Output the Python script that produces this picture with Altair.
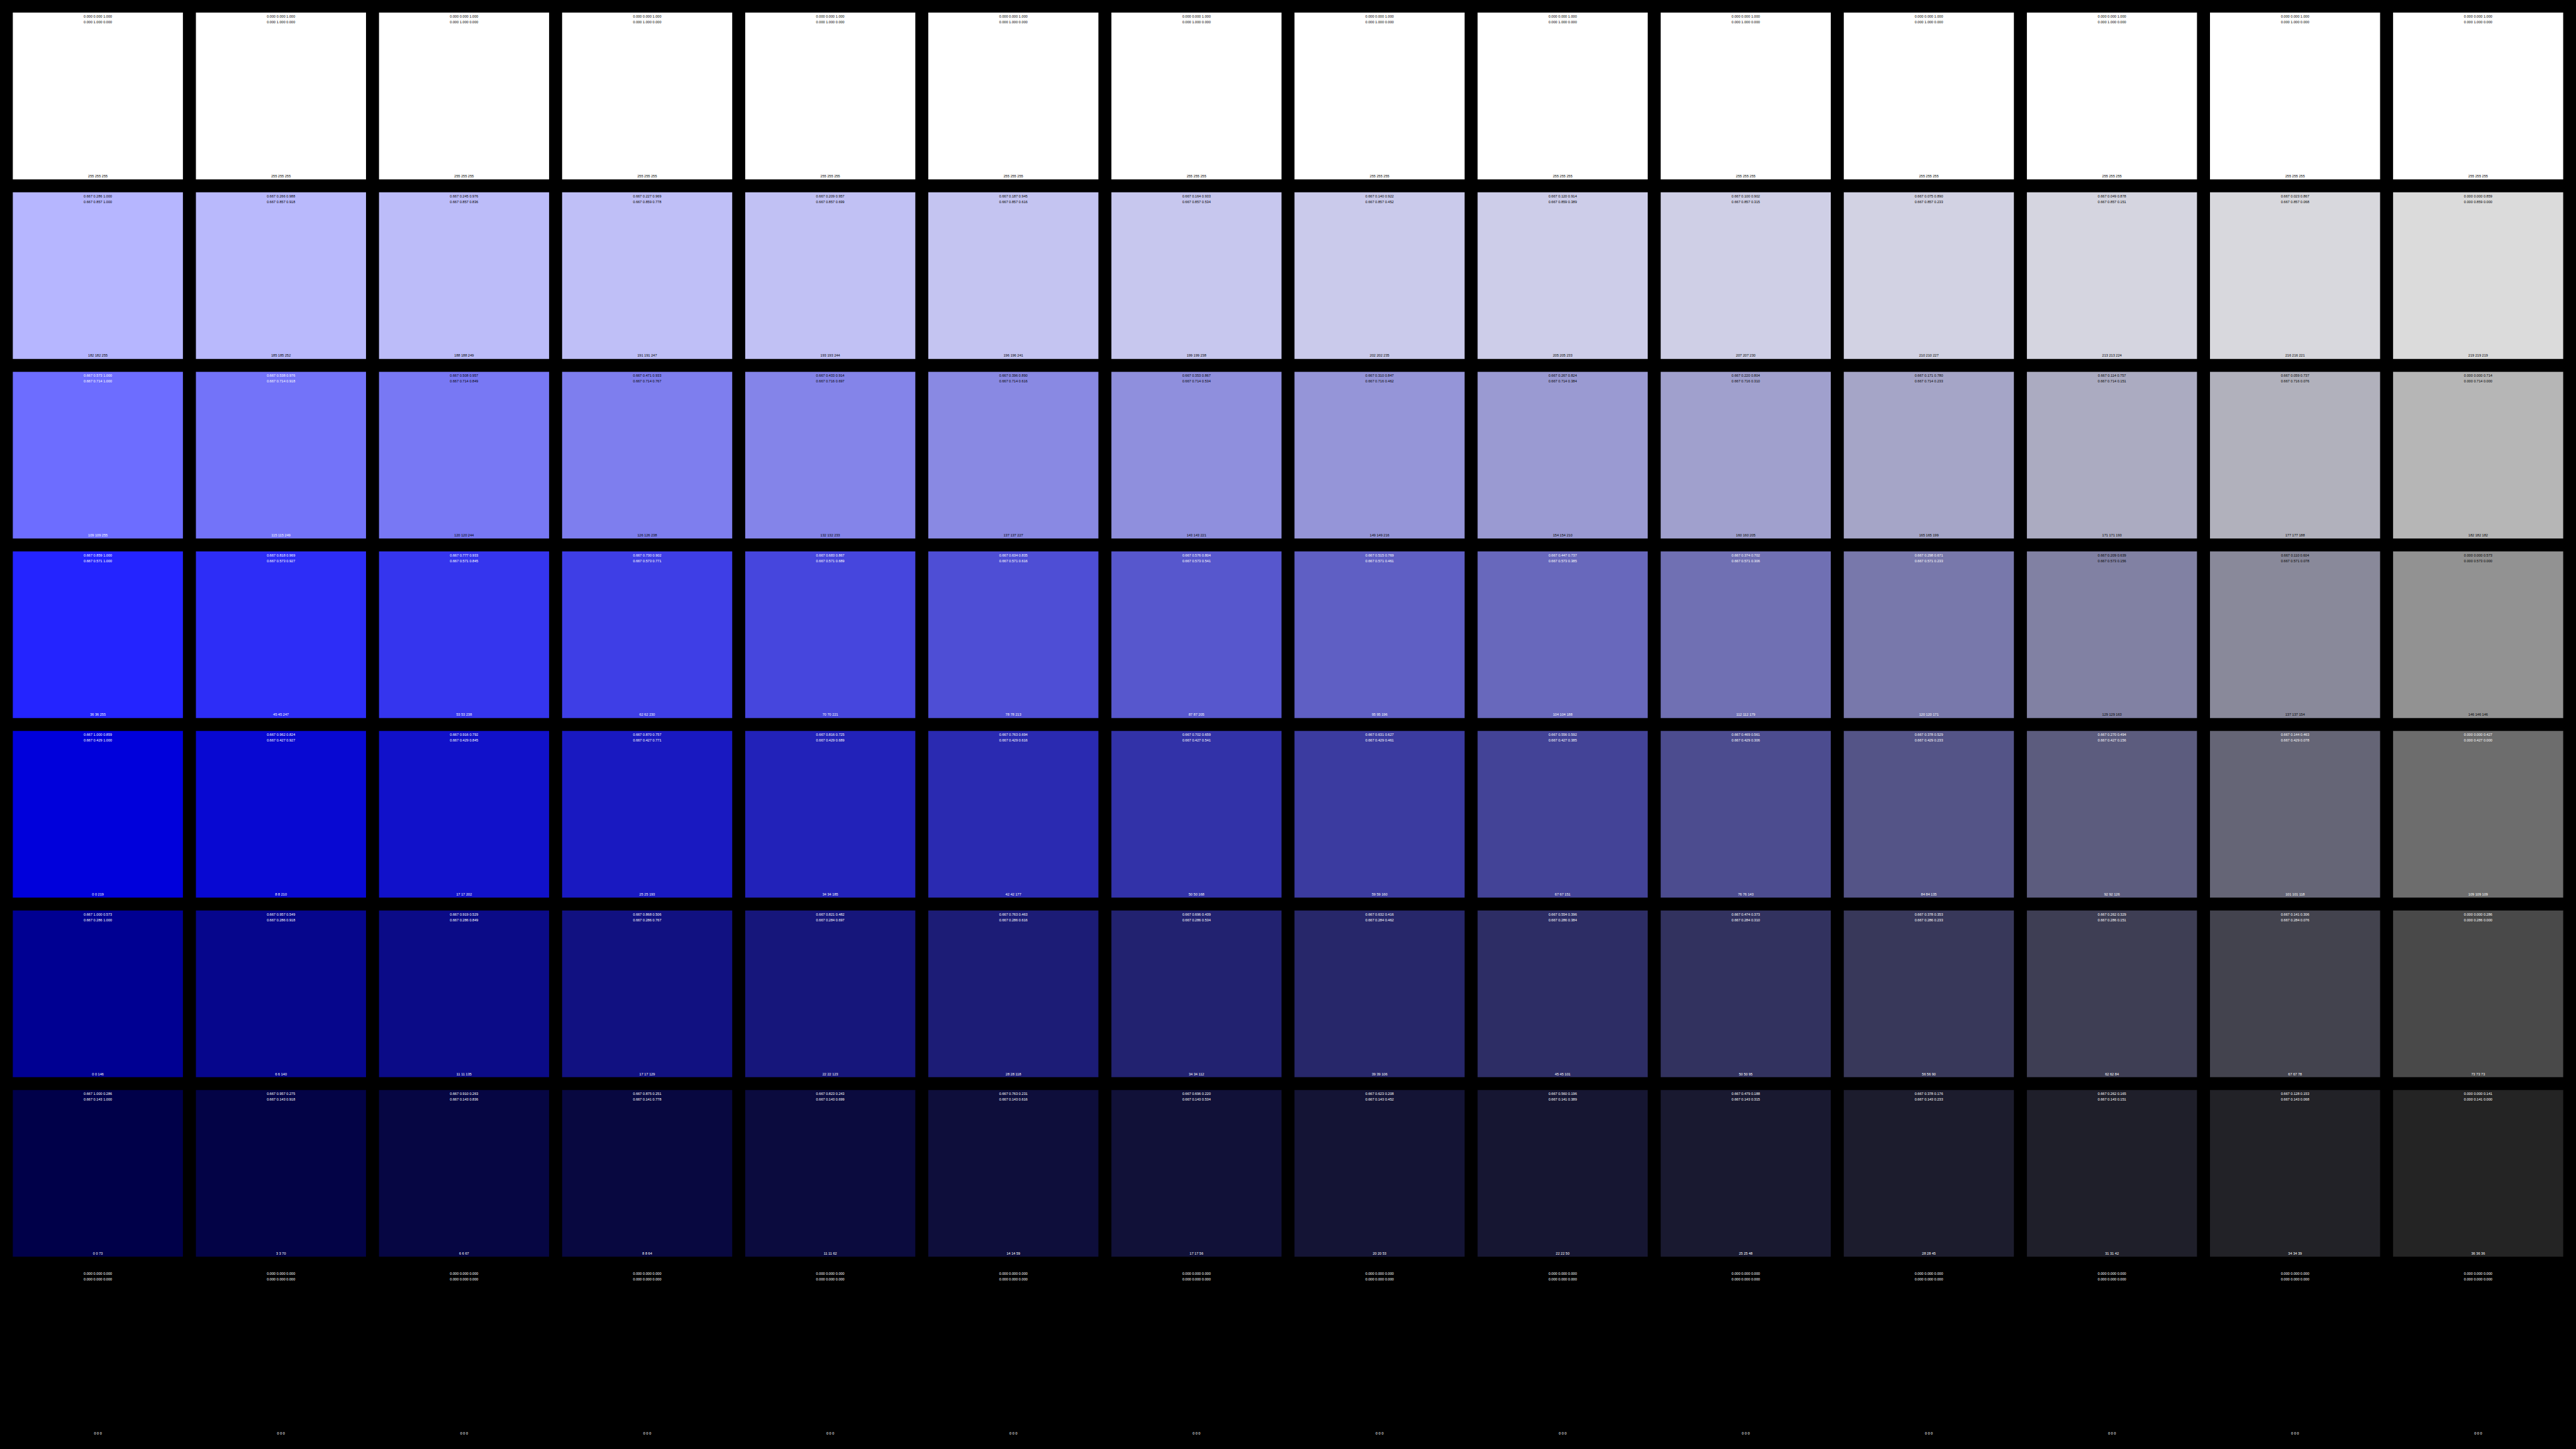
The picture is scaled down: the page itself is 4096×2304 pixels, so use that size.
import colorsys
import altair as alt
import pandas as pd

# Blue channel value of every swatch (rows: HLS lightness 1 .. 0, columns: HLS saturation 1 .. 0)
blue_channel = [
    [255, 255, 255, 255, 255, 255, 255, 255, 255, 255, 255, 255, 255, 255],
    [255, 252, 249, 247, 244, 241, 238, 235, 233, 230, 227, 224, 221, 219],
    [255, 249, 244, 238, 233, 227, 221, 216, 210, 205, 199, 193, 188, 182],
    [255, 247, 238, 230, 221, 213, 205, 196, 188, 179, 171, 163, 154, 146],
    [219, 210, 202, 193, 185, 177, 168, 160, 151, 143, 135, 126, 118, 109],
    [146, 140, 135, 129, 123, 118, 112, 106, 101, 95, 90, 84, 78, 73],
    [73, 70, 67, 64, 62, 59, 56, 53, 50, 48, 45, 42, 39, 36],
    [0, 0, 0, 0, 0, 0, 0, 0, 0, 0, 0, 0, 0, 0],
]
# Red (= green) channel value of every swatch
red_green_channel = [
    [255, 255, 255, 255, 255, 255, 255, 255, 255, 255, 255, 255, 255, 255],
    [182, 185, 188, 191, 193, 196, 199, 202, 205, 207, 210, 213, 216, 219],
    [109, 115, 120, 126, 132, 137, 143, 149, 154, 160, 165, 171, 177, 182],
    [36, 45, 53, 62, 70, 78, 87, 95, 104, 112, 120, 129, 137, 146],
    [0, 8, 17, 25, 34, 42, 50, 59, 67, 76, 84, 92, 101, 109],
    [0, 6, 11, 17, 22, 28, 34, 39, 45, 50, 56, 62, 67, 73],
    [0, 3, 6, 8, 11, 14, 17, 20, 22, 25, 28, 31, 34, 36],
    [0, 0, 0, 0, 0, 0, 0, 0, 0, 0, 0, 0, 0, 0],
]

records = []
for i in range(len(blue_channel)):
    for j in range(len(blue_channel[i])):
        r = g = red_green_channel[i][j]
        b = blue_channel[i][j]
        h, s, v = colorsys.rgb_to_hsv(r / 255, g / 255, b / 255)
        hh, ll, ss = colorsys.rgb_to_hls(r / 255, g / 255, b / 255)
        lum = 0.2126 * r + 0.7152 * g + 0.0722 * b
        records.append(dict(
            row=i, col=j,
            hex="#%02x%02x%02x" % (r, g, b),
            hsv=f"{h:.3f}  {s:.3f}  {v:.3f}",
            hls=f"{hh:.3f}  {ll:.3f}  {ss:.3f}",
            rgb=f"{r}  {g}  {b}",
            tc="black" if lum >= 128 else "white",
        ))
df = pd.DataFrame(records)

xs = alt.Scale(paddingInner=0.071, paddingOuter=0.07)
ys = alt.Scale(paddingInner=0.0716, paddingOuter=0.0704)
X = alt.X("col:O", scale=xs, axis=None)

base = alt.Chart(df)
rects = base.mark_rect().encode(
    x=X,
    y=alt.Y("row:O", scale=ys, axis=None),
    color=alt.Color("hex:N", scale=None),
)

FONT = "Liberation Sans"
FS = 5.6

def label(field, band, dy):
    return base.mark_text(font=FONT, fontSize=FS, baseline="middle", align="center", dy=dy).encode(
        x=X,
        y=alt.Y("row:O", scale=ys, axis=None, bandPosition=band),
        text=alt.Text(f"{field}:N"),
        color=alt.Color("tc:N", scale=None),
    )

chart = alt.layer(
    rects,
    label("hsv", 0, 6.0),
    label("hls", 0, 14.9),
    label("rgb", 1, -5.3),
).properties(
    width=4096, height=2304,
    autosize=alt.AutoSizeParams(type="none"),
    padding=0,
    background="black",
).configure_view(stroke=None)

chart.save("out.html", embed_options={"renderer": "svg", "actions": False})
